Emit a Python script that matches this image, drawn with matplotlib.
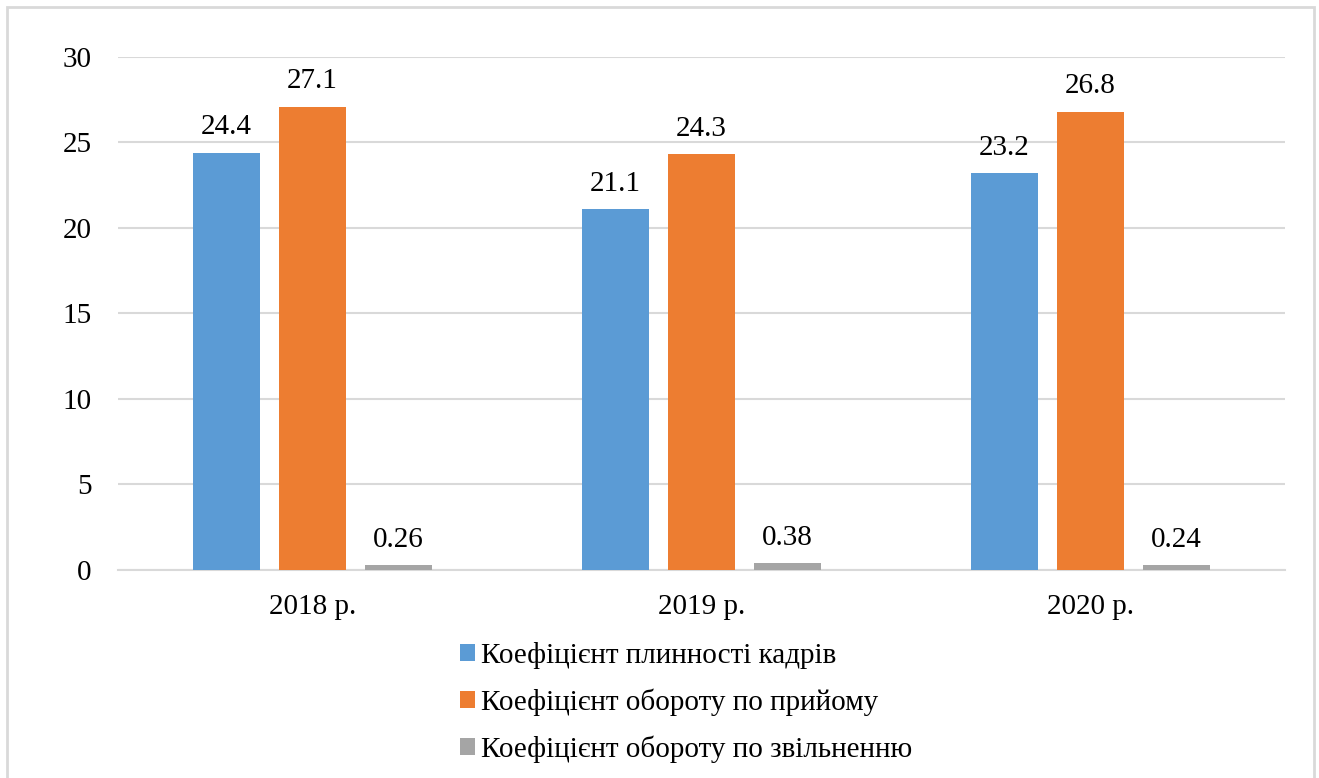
import matplotlib
matplotlib.use("Agg")
import matplotlib.pyplot as plt
import numpy as np
from matplotlib.patches import Rectangle

plt.rcParams['font.family'] = 'serif'
plt.rcParams['font.serif'] = ['Liberation Serif', 'TeX Gyre Termes', 'DejaVu Serif']

years = ["2018 р.", "2019 р.", "2020 р."]
series_names = ["Коефіцієнт плинності кадрів",
                "Коефіцієнт обороту по прийому",
                "Коефіцієнт обороту по звільненню"]
fluidity = [24.4, 21.1, 23.2]
hiring = [27.1, 24.3, 26.8]
dismissal = [0.26, 0.38, 0.24]
labels_text = [["24.4", "21.1", "23.2"],
               ["27.1", "24.3", "26.8"],
               ["0.26", "0.38", "0.24"]]
colors = ["#5B9BD5", "#ED7D31", "#A5A5A5"]

W, H = 1319, 778
fig = plt.figure(figsize=(W / 100, H / 100), dpi=100)
ax = fig.add_axes([118 / W, 1 - 569.5 / H, (1285 - 118) / W, (569.5 - 57) / H])

x = np.arange(len(years))
width = 0.172
step = 0.221
fs = 21

for i, (vals, col, name) in enumerate(zip([fluidity, hiring, dismissal], colors, series_names)):
    pos = x + (i - 1) * step
    bars = ax.bar(pos, vals, width=width, color=col, label=name, zorder=3)
    for b, txt in zip(bars, labels_text[i]):
        ax.annotate(txt, (b.get_x() + b.get_width() / 2, b.get_height()),
                    xytext=(0, 9), textcoords="offset points",
                    ha="center", va="bottom", fontsize=fs)

ax.set_xlim(-0.5, 2.5)
ax.set_ylim(0, 30)
ax.set_yticks(range(0, 31, 5))
ax.set_xticks(x)
ax.set_xticklabels(years)
ax.tick_params(axis="both", length=0, labelsize=fs)
ax.tick_params(axis="y", pad=19)
ax.tick_params(axis="x", pad=18)
ax.grid(axis="y", color="#D9D9D9", linewidth=1.5, zorder=0)
for s in ["top", "right", "left"]:
    ax.spines[s].set_visible(False)
ax.spines["bottom"].set_color("#D9D9D9")
ax.spines["bottom"].set_linewidth(1.5)

leg = fig.legend(loc="upper left", bbox_to_anchor=(448 / W, 1 - 630 / H),
                 frameon=False, fontsize=fs, handlelength=0.52, handleheight=0.52,
                 handletextpad=0.22, labelspacing=0.68, borderaxespad=0)

# outer chart frame
fig.patches.append(Rectangle((7 / W, -0.05), (1314 - 7) / W, 1 - 7 / H + 0.05,
                             transform=fig.transFigure, fill=False,
                             edgecolor="#D9D9D9", linewidth=2))

fig.savefig("out.png", dpi=100)
